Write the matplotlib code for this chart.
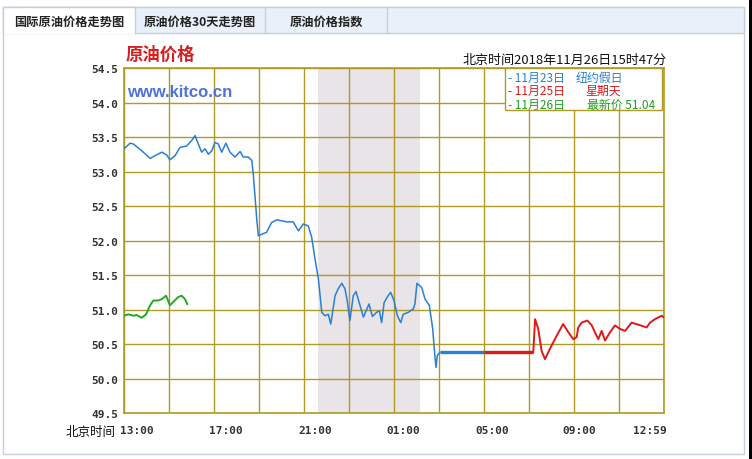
import matplotlib
matplotlib.use("Agg")
import matplotlib.pyplot as plt
import matplotlib.patches as mpatches
import matplotlib.transforms as mtransforms

plt.rcParams['font.family'] = ['Noto Sans CJK SC', 'DejaVu Sans']

# hours after 13:00 Beijing time, price in USD
hours_23 = [0.00, 0.27, 0.41, 0.79, 1.16, 1.38, 1.68, 1.90, 2.04, 2.27, 2.49, 2.79,
            3.01, 3.16, 3.30, 3.45, 3.60, 3.75, 3.90, 4.04, 4.19, 4.34, 4.53, 4.71,
            4.93, 5.16, 5.30, 5.52, 5.68, 5.75, 5.82, 5.90, 5.97, 6.12, 6.34, 6.56,
            6.79, 7.23, 7.52, 7.75, 7.97, 8.19, 8.34, 8.49, 8.64, 8.79, 8.93, 9.08,
            9.19, 9.38, 9.52, 9.68, 9.82, 9.92, 10.04, 10.19, 10.31, 10.41, 10.64,
            10.76, 10.89, 11.04, 11.23, 11.35, 11.45, 11.56, 11.70, 11.85, 12.00,
            12.15, 12.30, 12.41, 12.64, 12.86, 12.93, 13.02, 13.23, 13.38, 13.57,
            13.72, 13.82, 13.87, 13.92, 14.04]
price_23 = [53.33, 53.41, 53.40, 53.30, 53.19, 53.23, 53.28, 53.24, 53.17, 53.23, 53.35, 53.37,
            53.45, 53.52, 53.40, 53.28, 53.33, 53.25, 53.30, 53.42, 53.40, 53.28, 53.41, 53.28,
            53.21, 53.29, 53.21, 53.21, 53.16, 52.94, 52.65, 52.31, 52.07, 52.09, 52.12, 52.26,
            52.30, 52.27, 52.27, 52.14, 52.24, 52.21, 52.05, 51.73, 51.44, 50.96, 50.91, 50.93,
            50.79, 51.20, 51.30, 51.38, 51.30, 51.13, 50.84, 51.20, 51.26, 51.15, 50.89,
            50.98, 51.08, 50.90, 50.96, 50.98, 50.81, 51.10, 51.18, 51.25, 51.13,
            50.91, 50.81, 50.93, 50.96, 51.01, 51.08, 51.38, 51.32, 51.15, 51.06,
            50.72, 50.31, 50.16, 50.33, 50.38]

# market closed: last price carried
hold_23 = [14.04, 16.00]
hold_25 = [16.00, 18.19]
hold_price = 50.38

hours_25 = [18.19, 18.27, 18.41, 18.56, 18.71, 18.93, 19.23, 19.52, 19.75, 19.97, 20.12,
            20.19, 20.34, 20.59, 20.79, 20.93, 21.08, 21.23, 21.38, 21.60, 21.82, 22.04,
            22.27, 22.56, 22.86, 23.23, 23.38, 23.60, 23.90, 23.97]
price_25 = [50.38, 50.86, 50.72, 50.40, 50.28, 50.43, 50.62, 50.79, 50.67, 50.57, 50.60,
            50.74, 50.81, 50.84, 50.77, 50.67, 50.57, 50.69, 50.55, 50.67, 50.77, 50.72,
            50.69, 50.81, 50.78, 50.74, 50.81, 50.86, 50.91, 50.89]

hours_26 = [0.00, 0.19, 0.41, 0.56, 0.79, 0.98, 1.16, 1.30, 1.52, 1.68, 1.87, 2.04,
            2.19, 2.41, 2.56, 2.71, 2.81]
price_26 = [50.91, 50.93, 50.91, 50.92, 50.88, 50.93, 51.06, 51.13, 51.13, 51.15, 51.20, 51.06,
            51.11, 51.18, 51.20, 51.15, 51.08]

shade_span = [8.62, 13.16]

y_ticks = [49.5, 50.0, 50.5, 51.0, 51.5, 52.0, 52.5, 53.0, 53.5, 54.0, 54.5]
x_grid = list(range(0, 25, 2))
x_ticks = [0, 4, 8, 12, 16, 20, 24]
x_labels = ['13:00', '17:00', '21:00', '01:00', '05:00', '09:00', '12:59']
x_label_shift = [13, 12, 11, 9.5, 8, 5.5, -14]  # px

legend_rows = [('- 11月23日', '纽约假日', '#2a7fd4'),
               ('- 11月25日', '星期天', '#d81c1c'),
               ('- 11月26日', '最新价 51.04', '#1f9f1f')]

BLUE = '#2a7fd4'
RED = '#e01818'
GREEN = '#22aa22'
GRID = '#b09a24'

W, H = 752, 460
fig = plt.figure(figsize=(W / 100, H / 100), dpi=100)
fig.patch.set_facecolor('white')

# page chrome in pixel coordinates
bg = fig.add_axes([0, 0, 1, 1], zorder=0)
bg.set_xlim(0, W)
bg.set_ylim(H, 0)
bg.axis('off')
bg.add_patch(mpatches.Rectangle((3, 8), 741, 447, facecolor='white', edgecolor='#c5d0da', lw=1))
bg.add_patch(mpatches.Rectangle((3, 8), 741, 26, facecolor='#e9f0f9', edgecolor='#c5d0da', lw=1))
bg.add_patch(mpatches.Rectangle((3, 8), 132, 27, facecolor='white', edgecolor='none'))
bg.plot([3, 3, 135, 135], [35, 8, 8, 34], color='#c5d0da', lw=1)
for sx in [265, 387]:
    bg.plot([sx, sx], [8, 34], color='#c5d0da', lw=1)
bg.add_patch(mpatches.Rectangle((749, 0), 3, H, facecolor='black', edgecolor='none'))
bg.text(69, 22, '国际原油价格走势图', ha='center', va='center', fontsize=8.8,
        fontweight='bold', color='#222222')
bg.text(200, 22, '原油价格30天走势图', ha='center', va='center', fontsize=8.8,
        fontweight='bold', color='#222222')
bg.text(326, 22, '原油价格指数', ha='center', va='center', fontsize=8.8,
        fontweight='bold', color='#222222')
bg.text(126, 55, '原油价格', ha='left', va='center', fontsize=12.5,
        fontweight='bold', color='#d42020')
bg.text(667, 60, '北京时间2018年11月26日15时47分', ha='right', va='center',
        fontsize=9.4, color='#111111')
bg.text(116, 433, '北京时间', ha='right', va='center', fontsize=9, color='#111111')

# main chart
ax = fig.add_axes([124 / W, 1 - 414 / H, 540 / W, 345 / H], zorder=2)
ax.set_facecolor('white')
ax.set_xlim(0, 24)
ax.set_ylim(49.5, 54.5)
ax.axvspan(shade_span[0], shade_span[1], color='#e9e4e8', lw=0, zorder=0)
for gx in x_grid:
    ax.axvline(gx, color=GRID, lw=1, zorder=1)
for gy in y_ticks:
    ax.axhline(gy, color=GRID, lw=1, zorder=1)
for s in ax.spines.values():
    s.set_color(GRID)
    s.set_linewidth(1.2)

ax.plot(hours_23, price_23, color=BLUE, lw=1.1, zorder=3)
ax.plot(hold_23, [hold_price] * 2, color=BLUE, lw=2.4, zorder=3, solid_capstyle='butt')
ax.plot(hold_25, [hold_price] * 2, color=RED, lw=2.4, zorder=3, solid_capstyle='butt')
ax.plot(hours_25, price_25, color=RED, lw=1.4, zorder=3)
ax.plot(hours_26, price_26, color=GREEN, lw=1.4, zorder=3)

ax.set_yticks(y_ticks)
ax.set_yticklabels([f'{v:.1f}' for v in y_ticks], fontfamily='DejaVu Sans Mono',
                   fontweight='bold', fontsize=8, color='#333333')
ax.set_xticks(x_ticks)
ax.set_xticklabels(x_labels, fontfamily='DejaVu Sans Mono', fontweight='bold',
                   fontsize=8, color='#333333')
ax.tick_params(length=0)
ax.tick_params(axis='y', pad=4)
ax.tick_params(axis='x', pad=9)
for lab, dx in zip(ax.get_xticklabels(), x_label_shift):
    lab.set_transform(lab.get_transform() +
                      mtransforms.ScaledTranslation(dx / 100, 0, fig.dpi_scale_trans))

ax.text(0.006, 0.955, 'www.kitco.cn', transform=ax.transAxes, ha='left', va='top',
        fontsize=12, fontweight='bold', color='#4f72d8', family=['Liberation Sans'], zorder=4)

# legend box
fg = fig.add_axes([0, 0, 1, 1], zorder=5)
fg.set_xlim(0, W)
fg.set_ylim(H, 0)
fg.axis('off')
fg.patch.set_visible(False)
fg.add_patch(mpatches.Rectangle((505, 69), 157, 42, facecolor='white', edgecolor=GRID, lw=1))
for i, (d, note, c) in enumerate(legend_rows):
    yy = 78 + i * 13.5
    fg.text(508, yy, d, ha='left', va='center', fontsize=8.6, color=c)
    fg.text(576 if i == 0 else (585 if i == 1 else 587), yy, note, ha='left', va='center',
            fontsize=8.6, color=c)

fig.savefig('out.png', dpi=100)
